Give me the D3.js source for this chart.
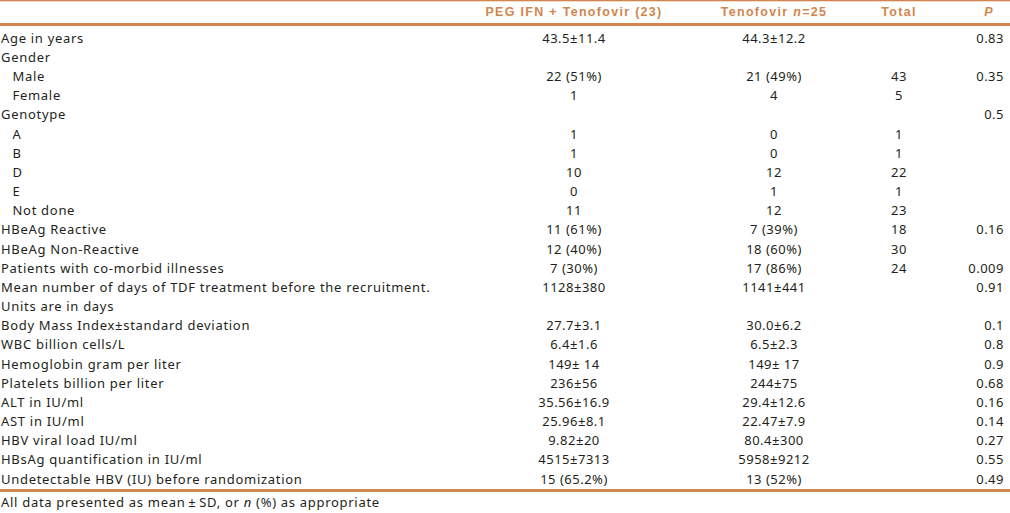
<!DOCTYPE html>
<html>
<head>
<meta charset="utf-8">
<script src="https://cdn.jsdelivr.net/npm/d3@7"></script>
<style>
  body { margin: 0; background: #fff; }
  svg { display: block; }
</style>
</head>
<body>
<svg id="canvas"></svg>
<script>
// header of each column
var headers = ['', 'PEG IFN + Tenofovir (23)', 'Tenofovir n=25', 'Total', 'P'];

// row labels, indent = sub item
var labels = [
  'Age in years', 'Gender', 'Male', 'Female', 'Genotype', 'A', 'B', 'D', 'E', 'Not done',
  'HBeAg Reactive', 'HBeAg Non-Reactive', 'Patients with co-morbid illnesses',
  'Mean number of days of TDF treatment before the recruitment.', 'Units are in days',
  'Body Mass Index\u00b1standard deviation', 'WBC billion cells/L', 'Hemoglobin gram per liter',
  'Platelets billion per liter', 'ALT in IU/ml', 'AST in IU/ml', 'HBV viral load IU/ml',
  'HBsAg quantification in IU/ml', 'Undetectable HBV (IU) before randomization'
];
var indented = [0, 0, 1, 1, 0, 1, 1, 1, 1, 1, 0, 0, 0, 0, 0, 0, 0, 0, 0, 0, 0, 0, 0, 0];

var pegValues = [
  '43.5\u00b111.4', '', '22 (51%)', '1', '', '1', '1', '10', '0', '11',
  '11 (61%)', '12 (40%)', '7 (30%)', '1128\u00b1380', '', '27.7\u00b13.1', '6.4\u00b11.6',
  '149\u00b1 14', '236\u00b156', '35.56\u00b116.9', '25.96\u00b18.1', '9.82\u00b120',
  '4515\u00b17313', '15 (65.2%)'
];
var tenoValues = [
  '44.3\u00b112.2', '', '21 (49%)', '4', '', '0', '0', '12', '1', '12',
  '7 (39%)', '18 (60%)', '17 (86%)', '1141\u00b1441', '', '30.0\u00b16.2', '6.5\u00b12.3',
  '149\u00b1 17', '244\u00b175', '29.4\u00b112.6', '22.47\u00b17.9', '80.4\u00b1300',
  '5958\u00b19212', '13 (52%)'
];
var totals = [
  '', '', '43', '5', '', '1', '1', '22', '1', '23',
  '18', '30', '24', '', '', '', '', '', '', '', '', '', '', ''
];
var pValues = [
  '0.83', '', '0.35', '', '0.5', '', '', '', '', '',
  '0.16', '', '0.009', '0.91', '', '0.1', '0.8', '0.9', '0.68', '0.16', '0.14', '0.27',
  '0.55', '0.49'
];

var width = 1010;
var height = 513;
var orange = '#d0864e';
var bodyFont = '"Noto Sans", sans-serif';
var headFont = '"Liberation Sans", Arial, sans-serif';

var svg = d3.select('#canvas').attr('width', width).attr('height', height);

// row positions (baselines)
var y = d3
  .scalePoint()
  .domain(d3.range(labels.length))
  .range([42.7, 483.6]);

// column centres
var x = d3
  .scaleOrdinal()
  .domain(['peg', 'teno', 'total', 'p'])
  .range([574, 774, 899, 1004]);

// lines
svg.append('rect').attr('x', 0).attr('y', 0).attr('width', width).attr('height', 1.3).attr('fill', orange);
svg.append('rect').attr('x', 0).attr('y', 23).attr('width', width).attr('height', 3).attr('fill', orange);
svg.append('rect').attr('x', 0).attr('y', 489).attr('width', width).attr('height', 3).attr('fill', orange);

// header
var head = svg
  .append('g')
  .style('font-family', headFont)
  .style('font-weight', 'bold')
  .style('font-size', '12.5px')
  .style('letter-spacing', '1.3px')
  .style('fill', orange);

head.append('text').attr('x', x('peg')).attr('y', 15.5).attr('text-anchor', 'middle').text(headers[1]);
var tHead = head.append('text').attr('x', x('teno')).attr('y', 15.5).attr('text-anchor', 'middle');
tHead.append('tspan').text('Tenofovir ');
tHead.append('tspan').style('font-style', 'italic').text('n');
tHead.append('tspan').text('=25');
head.append('text').attr('x', x('total')).attr('y', 15.5).attr('text-anchor', 'middle').text(headers[3]);
head.append('text').attr('x', 989).attr('y', 15.5).attr('text-anchor', 'middle').style('font-style', 'italic').text(headers[4]);

// body rows
var body = svg
  .append('g')
  .style('font-family', bodyFont)
  .style('font-size', '13px')
  .style('letter-spacing', '0.7px')
  .style('fill', '#231f20');

var rows = body
  .selectAll('.row')
  .data(labels.map((d, i) => i))
  .enter()
  .append('g')
  .attr('class', 'row')
  .attr('transform', i => 'translate(0,' + y(i) + ')');

rows
  .append('text')
  .attr('x', i => (indented[i] ? 12.5 : 1))
  .text(i => labels[i]);

rows.append('text').attr('x', x('peg')).attr('text-anchor', 'middle').style('letter-spacing', '0.5px').text(i => pegValues[i]);
rows.append('text').attr('x', x('teno')).attr('text-anchor', 'middle').style('letter-spacing', '0.5px').text(i => tenoValues[i]);
rows.append('text').attr('x', x('total')).attr('text-anchor', 'middle').style('letter-spacing', '0.5px').text(i => totals[i]);
rows.append('text').attr('x', x('p')).attr('text-anchor', 'end').style('letter-spacing', '0.5px').text(i => pValues[i]);

// footnote
var foot = body.append('text').attr('x', 1).attr('y', 507);
foot.append('tspan').text('All data presented as mean\u2009\u00b1\u2009SD, or ');
foot.append('tspan').style('font-style', 'italic').text('n');
foot.append('tspan').text(' (%) as appropriate');
</script>
</body>
</html>
